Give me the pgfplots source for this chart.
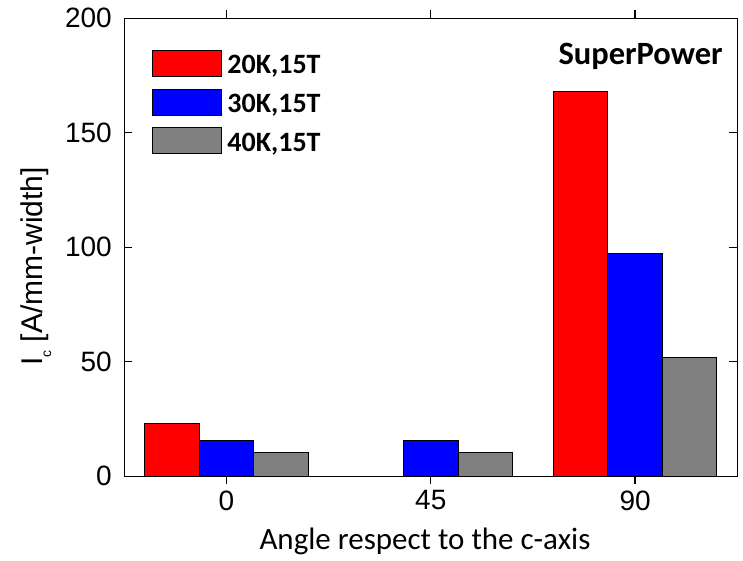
\documentclass[border=0pt]{standalone}
\usepackage{fontspec}
\usepackage{pgfplots}
\pgfplotsset{compat=1.18}
\newfontfamily\arialfont{Liberation Sans}
\newfontfamily\calfont{Carlito}

\pgfplotsset{
  legbox/.style={legend image code/.code={%
      \draw[##1, draw=black, line width=0.9pt] (0pt,-13pt) rectangle (68.7pt,13pt);
      \path (74.5pt,0pt);}},
}

\begin{document}
\begin{tikzpicture}
\path[use as bounding box] (-124.3pt,-84.8pt) rectangle (618.7pt,476.2pt);
\begin{axis}[
  at={(0pt,0pt)}, anchor=south west,
  scale only axis, width=613pt, height=458pt,
  xmin=-22.5, xmax=112.5, ymin=0, ymax=200,
  xtick={0,45,90}, ytick={0,50,100,150,200},
  minor tick num=0,
  tick align=inside, major tick length=8pt,
  axis line style={line width=1.3pt},
  tick style={black, line width=1.3pt},
  ticklabel style={font=\fontsize{28}{28}\selectfont\arialfont},
  /pgf/number format/assume math mode=true,
  xticklabel style={yshift=-3pt},
  yticklabel style={xshift=-9pt},
  ybar, bar width=12,
  xlabel={Angle respect to the c-axis},
  xlabel style={font=\fontsize{31}{31}\selectfont\calfont,
    at={(axis description cs:0.4905,-0.161)}, anchor=base},
  ylabel={I\raisebox{-9pt}{\fontsize{14}{14}\selectfont c} [A/mm-width]},
  ylabel style={font=\fontsize{30}{30}\selectfont\arialfont,
    at={(axis description cs:-0.134,0.458)}, anchor=base},
  legend cell align=left,
  legend style={at={(axis description cs:0.0452,0.9306)}, anchor=north west,
    draw=none, fill=none, inner sep=0pt, outer sep=0pt, row sep=11.8pt,
    font=\fontsize{28}{28}\selectfont\calfont\bfseries,
    nodes={inner sep=0pt, outer sep=0pt, text height=23.35pt, text depth=2.65pt}},
]
% 20 K, 15 T
\addplot[legbox, fill=red, draw=black, line width=0.9pt, bar shift=-12]
  coordinates {(0,23) (90,168)};
\addlegendentry{20K,15T}
% 30 K, 15 T
\addplot[legbox, fill=blue, draw=black, line width=0.9pt, bar shift=0]
  coordinates {(0,15.7) (45,15.5) (90,97.2)};
\addlegendentry{30K,15T}
% 40 K, 15 T
\addplot[legbox, fill=gray, draw=black, line width=0.9pt, bar shift=12]
  coordinates {(0,10.5) (45,10.2) (90,52)};
\addlegendentry{40K,15T}

\node[anchor=base east, inner sep=0pt,
  font=\fontsize{32.5}{32.5}\selectfont\calfont\bfseries]
  at (rel axis cs:0.9766,0.899) {SuperPower};
\end{axis}
\end{tikzpicture}
\end{document}
